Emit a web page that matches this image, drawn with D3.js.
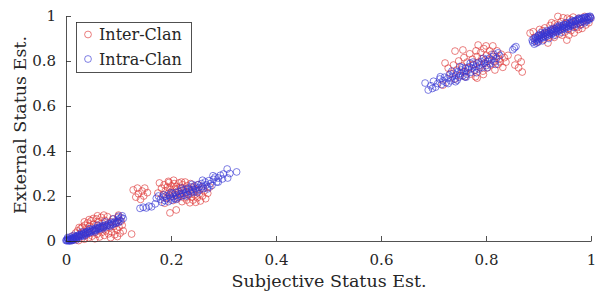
<!DOCTYPE html>
<html>
<head>
<meta charset="utf-8">
<script src="https://cdn.jsdelivr.net/npm/d3@7"></script>
<style>
  html, body { margin: 0; padding: 0; background: #fff; }
  svg { display: block; }
  text { font-family: "DejaVu Serif", "Liberation Serif", serif; fill: #262626; }
</style>
</head>
<body>
<div id="chart"></div>
<script>
// ---- data: [subjective, external] per point ----
const interLow = [[0.012,0.022],[0.015,0.005],[0.018,0.035],[0.020,0.010],[0.022,0.045],[0.024,0.002],[0.026,0.030],[0.028,0.055],[0.030,0.012],[0.031,0.062],[0.033,0.040],[0.035,0.008],[0.036,0.070],[0.038,0.025],[0.040,0.052],[0.041,0.080],[0.043,0.015],[0.045,0.065],[0.046,0.035],[0.048,0.090],[0.050,0.022],[0.051,0.058],[0.053,0.075],[0.055,0.010],[0.056,0.045],[0.058,0.098],[0.059,0.030],[0.061,0.068],[0.062,0.085],[0.064,0.018],[0.065,0.050],[0.067,0.105],[0.068,0.038],[0.070,0.078],[0.071,0.060],[0.073,0.025],[0.074,0.092],[0.076,0.045],[0.078,0.070],[0.079,0.108],[0.081,0.032],[0.083,0.058],[0.085,0.085],[0.087,0.040],[0.089,0.098],[0.091,0.065],[0.093,0.028],[0.095,0.080],[0.097,0.050],[0.099,0.105],[0.101,0.062],[0.103,0.035],[0.105,0.088],[0.107,0.070],[0.109,0.045],[0.125,0.031],[0.060,0.112],[0.052,0.100],[0.044,0.095],[0.072,0.115],[0.025,0.060],[0.035,0.085],[0.098,0.020],[0.085,0.015],[0.100,0.115]];
const interMid = [[0.128,0.227],[0.133,0.195],[0.138,0.210],[0.142,0.185],[0.148,0.200],[0.150,0.235],[0.155,0.215],[0.136,0.235],[0.145,0.222],
  [0.178,0.258],[0.175,0.213],[0.182,0.235],[0.185,0.205],[0.187,0.250],[0.189,0.222],[0.191,0.190],[0.193,0.240],[0.195,0.212],[0.196,0.260],[0.198,0.228],[0.199,0.198],[0.201,0.245],[0.203,0.215],[0.204,0.180],[0.206,0.255],[0.207,0.232],[0.209,0.205],[0.210,0.242],[0.212,0.188],[0.213,0.222],[0.215,0.258],[0.216,0.198],[0.218,0.238],[0.219,0.212],[0.221,0.175],[0.222,0.250],[0.224,0.228],[0.225,0.192],[0.227,0.262],[0.228,0.215],[0.230,0.182],[0.231,0.245],[0.233,0.205],[0.234,0.230],[0.236,0.170],[0.237,0.255],[0.239,0.195],[0.240,0.218],[0.242,0.182],[0.243,0.240],[0.245,0.205],[0.247,0.172],[0.248,0.228],[0.250,0.192],[0.252,0.250],[0.254,0.210],[0.256,0.178],[0.258,0.235],[0.260,0.200],[0.263,0.222],[0.266,0.188],[0.270,0.212],[0.274,0.240],[0.198,0.125],[0.210,0.138],[0.188,0.168],[0.195,0.265],[0.220,0.262],[0.205,0.270]];
const interHigh = [[0.722,0.791],[0.728,0.768],[0.732,0.745],[0.738,0.782],[0.741,0.844],[0.744,0.760],[0.748,0.800],[0.751,0.735],[0.754,0.778],[0.756,0.849],[0.758,0.815],[0.761,0.752],[0.764,0.795],[0.766,0.770],[0.769,0.832],[0.771,0.742],[0.774,0.808],[0.776,0.785],[0.779,0.760],[0.781,0.845],[0.783,0.820],[0.785,0.871],[0.786,0.795],[0.788,0.772],[0.790,0.838],[0.792,0.810],[0.794,0.755],[0.796,0.855],[0.798,0.790],[0.800,0.867],[0.801,0.825],[0.803,0.770],[0.805,0.805],[0.807,0.845],[0.809,0.782],[0.811,0.830],[0.813,0.867],[0.815,0.798],[0.817,0.760],[0.819,0.820],[0.821,0.845],[0.823,0.785],[0.825,0.808],[0.827,0.796],[0.829,0.830],[0.832,0.772],[0.835,0.815],[0.838,0.795],[0.842,0.825],[0.861,0.813],[0.855,0.782],[0.867,0.796],[0.869,0.751],[0.862,0.770],[0.740,0.720],[0.760,0.730],[0.780,0.730],[0.795,0.740],[0.718,0.693],[0.783,0.724]];
const interTop = [[0.884,0.924],[0.890,0.930],[0.893,0.905],[0.898,0.885],[0.902,0.940],[0.906,0.915],[0.910,0.895],[0.912,0.947],[0.915,0.925],[0.919,0.905],[0.922,0.958],[0.925,0.935],[0.928,0.912],[0.931,0.965],[0.934,0.945],[0.937,0.960],[0.937,0.998],[0.940,0.920],[0.943,0.975],[0.946,0.950],[0.947,0.992],[0.950,0.928],[0.953,0.968],[0.954,0.893],[0.957,0.945],[0.960,0.985],[0.962,0.935],[0.965,0.960],[0.966,0.995],[0.968,0.925],[0.971,0.975],[0.974,0.950],[0.976,0.940],[0.978,0.990],[0.980,0.962],[0.983,0.945],[0.985,0.975],[0.988,0.998],[0.990,0.960],[0.993,0.985],[0.996,0.970],[0.999,0.992],[0.908,0.935],[0.918,0.880],[0.930,0.905],[0.945,0.915],[0.958,0.915],[0.972,0.955],[0.925,0.970],[0.955,0.990]];

const intraLow = [[0.002,0.001],[0.004,0.003],[0.005,0.006],[0.007,0.002],[0.008,0.008],[0.009,0.005],[0.010,0.011],[0.011,0.004],[0.012,0.009],[0.013,0.014],[0.014,0.007],[0.015,0.012],[0.016,0.018],[0.017,0.010],[0.018,0.015],[0.019,0.021],[0.020,0.013],[0.021,0.019],[0.022,0.024],[0.024,0.017],[0.025,0.022],[0.026,0.028],[0.028,0.020],[0.029,0.026],[0.030,0.031],[0.032,0.024],[0.033,0.030],[0.034,0.036],[0.036,0.028],[0.037,0.034],[0.038,0.040],[0.040,0.032],[0.041,0.038],[0.042,0.044],[0.044,0.036],[0.045,0.042],[0.047,0.048],[0.048,0.040],[0.050,0.046],[0.051,0.052],[0.053,0.044],[0.054,0.050],[0.056,0.056],[0.057,0.048],[0.059,0.054],[0.060,0.060],[0.062,0.052],[0.063,0.058],[0.065,0.064],[0.066,0.056],[0.068,0.062],[0.070,0.068],[0.071,0.060],[0.073,0.066],[0.075,0.072],[0.077,0.064],[0.079,0.070],[0.081,0.077],[0.083,0.069],[0.085,0.075],[0.087,0.082],[0.089,0.074],[0.091,0.080],[0.093,0.087],[0.095,0.079],[0.097,0.085],[0.099,0.092],[0.101,0.098],[0.103,0.090],[0.105,0.104],[0.107,0.112],[0.109,0.100],[0.003,0.010],[0.006,0.000],[0.001,0.005],[0.000,0.002],[0.010,0.001],[0.013,0.003],[0.003,0.015],[0.020,0.005],
  [0.030,0.040],[0.045,0.055],[0.060,0.070],[0.075,0.085],[0.090,0.098],[0.100,0.110],[0.035,0.022],[0.055,0.040],[0.070,0.054],[0.085,0.066],[0.100,0.082],[0.015,0.025],[0.008,0.018]];
const intraMid = [[0.141,0.145],[0.147,0.150],[0.153,0.147],[0.158,0.155],[0.163,0.152],[0.170,0.165],
  [0.180,0.185],[0.183,0.172],[0.185,0.195],[0.188,0.180],[0.190,0.200],[0.192,0.188],[0.195,0.175],[0.197,0.205],[0.199,0.192],[0.201,0.182],[0.203,0.210],[0.205,0.198],[0.207,0.188],[0.209,0.215],[0.211,0.203],[0.213,0.194],[0.215,0.220],[0.217,0.207],[0.219,0.198],[0.221,0.225],[0.223,0.212],[0.225,0.203],[0.227,0.230],[0.229,0.218],[0.231,0.208],[0.233,0.234],[0.235,0.222],[0.237,0.213],[0.239,0.240],[0.241,0.228],[0.243,0.218],[0.245,0.245],[0.247,0.233],[0.249,0.223],[0.251,0.250],[0.253,0.238],[0.255,0.228],[0.258,0.255],[0.260,0.243],[0.262,0.234],[0.265,0.262],[0.267,0.249],[0.270,0.240],[0.272,0.268],[0.275,0.255],[0.278,0.247],[0.281,0.274],[0.284,0.284],[0.287,0.262],[0.290,0.280],[0.294,0.292],[0.298,0.276],[0.307,0.320],[0.308,0.280],[0.312,0.300],[0.325,0.307],[0.176,0.200],[0.172,0.190],
  [0.200,0.215],[0.220,0.235],[0.240,0.252],[0.260,0.270],[0.280,0.290],[0.210,0.185],[0.230,0.200],[0.250,0.215],[0.270,0.232],[0.290,0.262],[0.300,0.298],[0.186,0.205]];
const intraHigh = [[0.684,0.702],[0.690,0.671],[0.695,0.690],[0.700,0.710],[0.704,0.684],[0.708,0.700],[0.712,0.720],[0.715,0.695],[0.718,0.712],[0.721,0.728],[0.724,0.704],[0.727,0.722],[0.730,0.738],[0.733,0.712],[0.736,0.730],[0.738,0.745],[0.741,0.720],[0.743,0.738],[0.746,0.752],[0.748,0.728],[0.751,0.745],[0.753,0.760],[0.756,0.735],[0.758,0.752],[0.761,0.768],[0.763,0.742],[0.766,0.760],[0.768,0.775],[0.771,0.750],[0.773,0.768],[0.776,0.782],[0.778,0.758],[0.781,0.775],[0.783,0.790],[0.786,0.765],[0.788,0.782],[0.791,0.797],[0.793,0.772],[0.796,0.790],[0.798,0.805],[0.801,0.780],[0.803,0.798],[0.806,0.812],[0.808,0.788],[0.811,0.805],[0.814,0.820],[0.817,0.796],[0.820,0.812],[0.823,0.836],[0.826,0.824],[0.728,0.700],[0.745,0.715],[0.760,0.730],[0.770,0.790],[0.750,0.775],[0.851,0.850],[0.854,0.858],[0.857,0.864],
  [0.735,0.755],[0.755,0.770],[0.775,0.795],[0.795,0.812],[0.815,0.830],[0.742,0.708],[0.762,0.728],[0.782,0.748],[0.802,0.770],[0.818,0.785],[0.698,0.678],[0.713,0.730]];
const intraTop = [[0.888,0.893],[0.889,0.884],[0.891,0.900],[0.893,0.888],[0.895,0.905],[0.897,0.892],[0.899,0.910],[0.901,0.896],[0.903,0.915],[0.905,0.900],[0.907,0.918],[0.909,0.905],[0.911,0.922],[0.913,0.908],[0.915,0.926],[0.917,0.912],[0.919,0.930],[0.921,0.916],[0.923,0.934],[0.925,0.920],[0.927,0.938],[0.929,0.925],[0.931,0.942],[0.933,0.928],[0.935,0.946],[0.937,0.932],[0.939,0.950],[0.941,0.936],[0.943,0.953],[0.945,0.940],[0.947,0.957],[0.949,0.944],[0.951,0.960],[0.953,0.948],[0.955,0.964],[0.957,0.952],[0.959,0.967],[0.961,0.955],[0.963,0.970],[0.965,0.959],[0.967,0.974],[0.969,0.962],[0.971,0.977],[0.973,0.966],[0.975,0.980],[0.977,0.970],[0.979,0.983],[0.981,0.973],[0.983,0.986],[0.985,0.977],[0.987,0.989],[0.989,0.980],[0.991,0.992],[0.993,0.984],[0.995,0.994],[0.997,0.988],[0.999,0.996],[1.000,0.990],[0.998,0.999],[0.994,0.997],[0.990,0.995],[0.986,0.993],[0.982,0.990],[0.978,0.987],[0.974,0.984],[0.970,0.980],[0.966,0.976],[0.962,0.962],[0.958,0.958],[0.954,0.955],[0.950,0.950],[0.946,0.947],[0.942,0.943],[0.938,0.940],[0.934,0.936],[0.930,0.932],[0.926,0.928],[0.922,0.924],[0.918,0.920],[0.914,0.916],[0.910,0.912],[0.906,0.908],[0.902,0.904],[0.898,0.900],[0.894,0.896],[0.896,0.880],[0.900,0.885],
  [0.892,0.875],[0.904,0.925],[0.908,0.890],[0.916,0.935],[0.920,0.900],[0.928,0.945],[0.932,0.915],[0.940,0.958],[0.944,0.928],[0.952,0.970],[0.956,0.940],[0.964,0.980],[0.968,0.950],[0.976,0.990],[0.980,0.960],[0.988,0.970],[0.992,0.978],[0.996,0.982],[0.960,0.972],[0.948,0.962],[0.936,0.952],[0.924,0.940],[0.912,0.928],[0.900,0.915]];

const tickValues = [0, 0.2, 0.4, 0.6, 0.8, 1];
const seriesNames = ["Inter-Clan", "Intra-Clan"];
const seriesColors = ["#dd3535", "#3535d2"];

const W = 595, H = 295;
const x = d3.scaleLinear().domain([0, 1]).range([66, 591]);
const y = d3.scaleLinear().domain([0, 1]).range([241, 16]);
const fmt = d3.format("~g");

const svg = d3.select("#chart").append("svg")
  .attr("width", W).attr("height", H);

const series = [
  interLow.concat(interMid, interHigh, interTop),
  intraLow.concat(intraMid, intraHigh, intraTop)
];

// points: inter first, intra on top
series.forEach((pts, i) => {
  svg.append("g")
    .selectAll("circle")
    .data(pts)
    .enter().append("circle")
    .attr("cx", d => x(d[0]))
    .attr("cy", d => y(d[1]))
    .attr("r", 3.4)
    .attr("fill", "none")
    .attr("stroke", seriesColors[i])
    .attr("stroke-opacity", 0.75)
    .attr("stroke-width", 0.85);
});

// axes with inward ticks
const xAxis = svg.append("g")
  .attr("transform", `translate(0,${y(0)})`)
  .call(d3.axisBottom(x).tickValues(tickValues).tickFormat(fmt)
    .tickSizeInner(-5).tickSizeOuter(0).tickPadding(13));
const yAxis = svg.append("g")
  .attr("transform", `translate(${x(0)},0)`)
  .call(d3.axisLeft(y).tickValues(tickValues).tickFormat(fmt)
    .tickSizeInner(-5).tickSizeOuter(0).tickPadding(10));

[xAxis, yAxis].forEach(g => {
  g.select(".domain").attr("stroke", "#262626").attr("stroke-width", 0.8);
  g.selectAll(".tick line").attr("stroke", "#262626").attr("stroke-width", 0.8);
  g.selectAll(".tick text")
    .style("font-family", '"DejaVu Serif", serif')
    .style("font-size", "15px").attr("fill", "#262626");
});

// axis titles
svg.append("text")
  .attr("x", 329).attr("y", 287)
  .attr("text-anchor", "middle")
  .style("font-size", "17.5px")
  .text("Subjective Status Est.");
svg.append("text")
  .attr("transform", "translate(26,125) rotate(-90)")
  .attr("text-anchor", "middle")
  .style("font-size", "17.5px")
  .text("External Status Est.");

// legend
const legend = svg.append("g");
legend.append("rect")
  .attr("x", 76.5).attr("y", 22.5).attr("width", 115).attr("height", 50)
  .attr("fill", "#fff").attr("stroke", "#262626").attr("stroke-width", 0.8);
seriesNames.forEach((name, i) => {
  const cy = 34.5 + i * 24.5;
  legend.append("circle")
    .attr("cx", 88).attr("cy", cy).attr("r", 3.4)
    .attr("fill", "none").attr("stroke", seriesColors[i])
    .attr("stroke-opacity", 0.75).attr("stroke-width", 0.85);
  legend.append("text")
    .attr("x", 99).attr("y", cy).attr("dy", "0.35em")
    .style("font-size", "16px")
    .text(name);
});
</script>
</body>
</html>
